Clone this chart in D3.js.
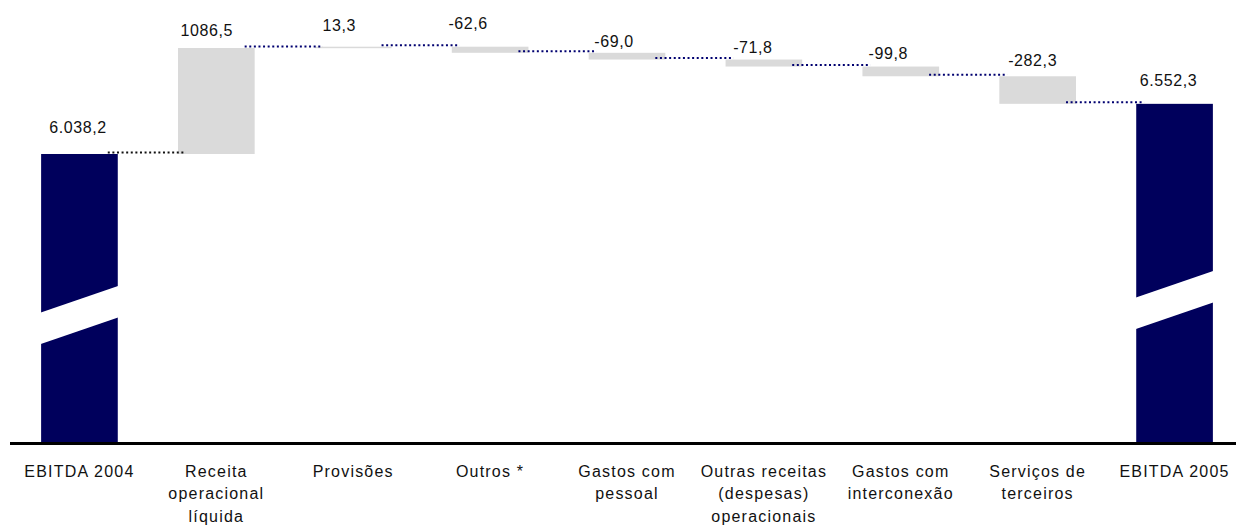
<!DOCTYPE html>
<html>
<head>
<meta charset="utf-8">
<script src="https://cdn.jsdelivr.net/npm/d3@7"></script>
<style>
  body { margin: 0; background: #fff; }
  svg { display: block; font-family: "Liberation Sans", Arial, sans-serif; }
</style>
</head>
<body>
<div id="chart"></div>
<script>
// Data
const categories = [
    ['EBITDA 2004'],
    ['Receita', 'operacional', 'líquida'],
    ['Provisões'],
    ['Outros *'],
    ['Gastos com', 'pessoal'],
    ['Outras receitas', '(despesas)', 'operacionais'],
    ['Gastos com', 'interconexão'],
    ['Serviços de', 'terceiros'],
    ['EBITDA 2005']
];
const values = [6038.2, 1086.5, 13.3, -62.6, -69.0, -71.8, -99.8, -282.3, 6552.3];
const kinds = ['total', 'delta', 'delta', 'delta', 'delta', 'delta', 'delta', 'delta', 'total'];
const axisFloor = 3086; // broken axis: bars start here

// Layout tweaks (label nudges as in the original)
const labelDx = [-1.5, -9.5, -14, -22, -13, -11, -12.5, -5, -6];
const labelDy = [-21, -12, -16, -18, -6, -7, -8, -10, -18];
const breakFrac = { 0: 0.441, 8: 0.42 };

const width = 1236, height = 525;
const baseY = 442;

const svg = d3.select('#chart').append('svg')
    .attr('width', width)
    .attr('height', height);

const x = d3.scaleBand()
    .domain(d3.range(categories.length))
    .range([11, 1243])
    .paddingInner(0.44)
    .paddingOuter(0.22);

const y = d3.scaleLinear()
    .domain([axisFloor, 7124.7])
    .range([baseY, 48]);

// Build waterfall segments
let running = 0;
const bars = values.map((v, i) => {
    let y0, y1;
    if (kinds[i] === 'total') {
        y0 = axisFloor; y1 = v; running = v;
    } else {
        y0 = running; y1 = running + v; running += v;
    }
    return { i, v, kind: kinds[i], lo: Math.min(y0, y1), hi: Math.max(y0, y1), end: running };
});

const locale = d3.formatLocale({ decimal: ',', thousands: '.', grouping: [3], currency: ['R$', ''], minus: '-' });
const fmtTotal = locale.format(',.1f');
const fmtDelta = locale.format('.1f');

// Bars
svg.append('g')
    .selectAll('rect')
    .data(bars)
    .enter()
    .append('rect')
    .attr('x', d => x(d.i))
    .attr('y', d => y(d.hi))
    .attr('width', x.bandwidth())
    .attr('height', d => Math.max(1.5, y(d.lo) - y(d.hi)))
    .attr('fill', d => d.kind === 'total' ? '#00005c' : '#dadada');

// Axis break on total bars
const bw = x.bandwidth();
svg.append('g')
    .selectAll('polygon')
    .data(bars.filter(d => breakFrac[d.i] !== undefined))
    .enter()
    .append('polygon')
    .attr('fill', '#fff')
    .attr('points', d => {
        const h = y(d.lo) - y(d.hi);
        const cy = y(d.lo) - h * breakFrac[d.i];
        const rise = 27, thick = 31.6;
        const xl = x(d.i) - 1, xr = x(d.i) + bw + 1;
        const top = [[xl, cy + rise / 2 - thick / 2], [xr, cy - rise / 2 - thick / 2]];
        const bot = [[xr, cy - rise / 2 + thick / 2], [xl, cy + rise / 2 + thick / 2]];
        return top.concat(bot).map(p => p.join(',')).join(' ');
    });

// Dotted connectors
svg.append('g')
    .selectAll('line')
    .data(bars.slice(0, -1))
    .enter()
    .append('line')
    .attr('x1', d => x(d.i) + bw - 10)
    .attr('x2', d => x(d.i + 1) + 8)
    .attr('y1', d => y(d.end) - 1.5)
    .attr('y2', d => y(d.end) - 1.5)
    .attr('stroke', d => d.i === 0 ? '#111' : '#000070')
    .attr('stroke-width', 2)
    .attr('stroke-dasharray', '2 2.6');

// Value labels
svg.append('g')
    .selectAll('text')
    .data(bars)
    .enter()
    .append('text')
    .attr('x', d => x(d.i) + bw / 2 + labelDx[d.i])
    .attr('y', d => y(d.hi) + labelDy[d.i])
    .attr('text-anchor', 'middle')
    .attr('font-size', 16)
    .attr('letter-spacing', 0.6)
    .attr('fill', '#111')
    .text(d => d.kind === 'total' ? fmtTotal(d.v) : fmtDelta(d.v));

// Baseline
svg.append('line')
    .attr('x1', 10)
    .attr('x2', width)
    .attr('y1', baseY + 1.5)
    .attr('y2', baseY + 1.5)
    .attr('stroke', '#000')
    .attr('stroke-width', 3);

// Category labels
const cat = svg.append('g')
    .selectAll('text')
    .data(categories)
    .enter()
    .append('text')
    .attr('text-anchor', 'middle')
    .attr('font-size', 16)
    .attr('letter-spacing', 1.2)
    .attr('fill', '#111');

cat.selectAll('tspan')
    .data((d, i) => d.map(t => ({ t, i })))
    .enter()
    .append('tspan')
    .attr('x', d => x(d.i) + bw / 2)
    .attr('y', (d, j) => 477 + j * 22.3)
    .text(d => d.t);
</script>
</body>
</html>
